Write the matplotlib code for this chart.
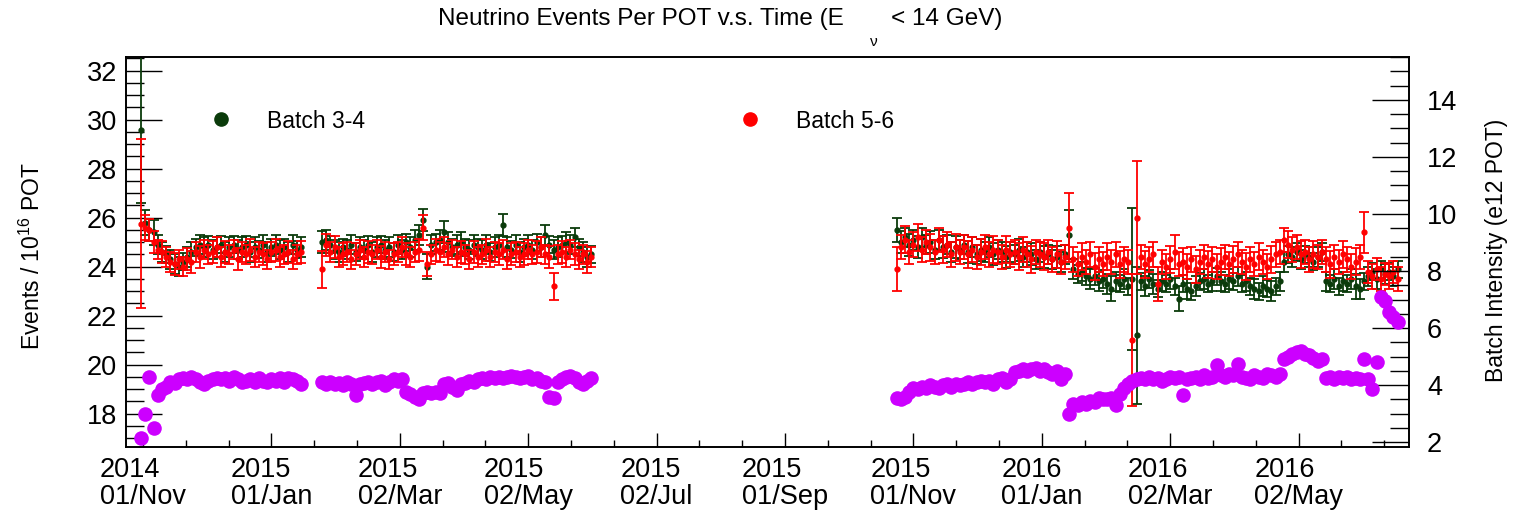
import matplotlib.pyplot as plt
import numpy as np
from matplotlib.lines import Line2D
from matplotlib.ticker import MultipleLocator

plt.rcParams['font.family'] = ['Liberation Sans', 'DejaVu Sans']
plt.rcParams['mathtext.fontset'] = 'custom'
plt.rcParams['mathtext.rm'] = 'Liberation Sans'
plt.rcParams['mathtext.it'] = 'Liberation Sans:italic'
plt.rcParams['mathtext.bf'] = 'Liberation Sans:bold'

# ---- data -------------------------------------------------------------
# time in days since 2014-11-01, one point every second day, three run periods
period_start = [-1, 85, 358]
period_len = [39, 65, 120]
day_step = 2

tick_days = [0, 61, 122, 183, 244, 305, 366, 427, 488, 549]
tick_labels = ['2014\n01/Nov', '2015\n01/Jan', '2015\n02/Mar', '2015\n02/May', '2015\n02/Jul',
               '2015\n01/Sep', '2015\n01/Nov', '2016\n01/Jan', '2016\n02/Mar', '2016\n02/May']

# events / 1e16 POT, batch 3-4
ev34_a = [29.6, 25.8, 25.5, 25.4, 24.9, 24.6, 24.5, 24.3, 24.1, 24.0, 24.2, 24.4, 24.6, 24.8,
          24.9, 24.8, 24.9, 24.7, 24.8, 24.9, 24.6, 24.8, 24.9, 24.7, 24.8, 24.9, 24.6, 24.8,
          24.7, 24.9, 24.6, 24.8, 24.9, 24.7, 24.8, 24.6, 24.9, 24.7, 24.8]
ev34_b = [25.0, 25.1, 24.9, 24.7, 24.6, 24.8, 24.7, 24.9, 24.6, 24.8, 24.7, 24.9, 24.6, 24.8,
          24.9, 24.7, 24.8, 24.6, 24.9, 24.7, 25.0, 24.8, 25.1, 25.3, 25.9, 24.0, 24.9, 25.0,
          25.1, 25.4, 25.0, 24.8, 24.9, 25.0, 24.8, 24.7, 24.9, 24.8, 24.7, 24.9, 24.6, 24.8,
          24.9, 25.7, 24.8, 24.7, 24.9, 24.6, 24.8, 24.9, 24.7, 25.0, 24.8, 25.3, 24.9, 24.7,
          24.8, 24.9, 25.0, 24.9, 25.2, 24.8, 24.6, 24.4, 24.5]
ev34_c = [25.5, 25.0, 25.2, 24.9, 25.1, 24.8, 25.2, 24.9, 25.0, 24.7, 25.1, 24.8, 24.9, 24.6,
          24.8, 24.7, 24.9, 24.6, 24.8, 24.5, 24.7, 24.6, 24.8, 24.5, 24.7, 24.6, 24.4, 24.6,
          24.5, 24.7, 24.4, 24.6, 24.5, 24.3, 24.6, 24.4, 24.5, 24.3, 24.4, 24.2, 24.5, 25.3,
          23.9, 23.7, 23.8, 23.6, 23.5, 23.6, 23.4, 23.5, 23.3, 23.1, 23.4, 23.3, 23.5, 23.2,
          23.5, 21.2, 23.4, 23.2, 23.5, 23.3, 23.1, 23.4, 23.3, 23.5, 23.2, 22.7, 23.3, 23.1,
          23.0, 23.2, 23.4, 23.5, 23.3, 23.4, 23.6, 23.4, 23.3, 23.5, 23.4, 23.6, 23.3, 23.4,
          23.2, 23.1, 23.0, 23.2, 23.1, 23.0, 23.2, 23.4, 24.2, 24.5, 24.4, 24.6, 24.3, 24.5,
          24.4, 24.2, 24.4, 24.6, 23.4, 23.3, 23.5, 23.2, 23.4, 23.3, 23.5, 23.2, 23.1, 23.4,
          23.6, 23.8, 23.5, 23.9, 23.7, 23.8, 23.6, 23.9]
err34_a = [3.0, 0.5, 0.45, 0.5, 0.4, 0.4, 0.35, 0.4, 0.4, 0.4, 0.35, 0.4, 0.4, 0.35, 0.4, 0.4,
           0.35, 0.4, 0.4, 0.35, 0.4, 0.4, 0.35, 0.4, 0.4, 0.35, 0.4, 0.4, 0.35, 0.4, 0.4, 0.35,
           0.4, 0.4, 0.35, 0.4, 0.4, 0.35, 0.4]
err34_b = [0.45, 0.4, 0.35, 0.4, 0.4, 0.35, 0.4, 0.4, 0.35, 0.4, 0.4, 0.35, 0.4, 0.4, 0.35, 0.4,
           0.4, 0.35, 0.4, 0.4, 0.35, 0.4, 0.4, 0.4, 0.45, 0.5, 0.4, 0.35, 0.4, 0.45, 0.4, 0.35,
           0.4, 0.4, 0.35, 0.4, 0.4, 0.35, 0.4, 0.4, 0.35, 0.4, 0.4, 0.45, 0.4, 0.35, 0.4, 0.4,
           0.35, 0.4, 0.4, 0.35, 0.4, 0.4, 0.35, 0.4, 0.4, 0.35, 0.4, 0.4, 0.4, 0.35, 0.4, 0.4,
           0.35]
err34_c = [0.5, 0.45, 0.4, 0.45, 0.4, 0.45, 0.4, 0.4, 0.45, 0.4, 0.4, 0.45, 0.4, 0.4, 0.45,
           0.4, 0.4, 0.45, 0.4, 0.4, 0.45, 0.4, 0.4, 0.45, 0.4, 0.4, 0.45, 0.4, 0.4, 0.45, 0.4,
           0.4, 0.45, 0.4, 0.4, 0.45, 0.4, 0.4, 0.45, 0.4, 0.4, 1.0, 0.4, 0.35, 0.4, 0.35, 0.4,
           0.35, 0.4, 0.35, 0.4, 0.5, 0.4, 0.35, 0.4, 0.35, 2.9, 2.8, 0.35, 0.4, 0.35, 0.4, 0.35,
           0.4, 0.35, 0.4, 0.35, 0.5, 0.35, 0.4, 0.35, 0.4, 0.35, 0.4, 0.35, 0.4, 0.35, 0.4, 0.35,
           0.4, 0.35, 0.4, 0.35, 0.4, 0.35, 0.4, 0.35, 0.4, 0.35, 0.4, 0.35, 0.4, 0.4, 0.35, 0.4,
           0.35, 0.4, 0.35, 0.4, 0.35, 0.4, 0.35, 0.4, 0.35, 0.4, 0.35, 0.4, 0.35, 0.4, 0.5, 0.4,
           0.35, 0.4, 0.35, 0.4, 0.35, 0.4, 0.35, 0.4, 0.35]

# events / 1e16 POT, batch 5-6
ev56_a = [25.75, 25.6, 25.5, 25.0, 24.7, 24.6, 24.4, 24.2, 24.1, 24.3, 24.0, 24.3, 24.2, 24.6,
          24.4, 24.7, 24.5, 24.6, 24.8, 24.4, 24.6, 24.5, 24.7, 24.3, 24.6, 24.5, 24.7, 24.4,
          24.6, 24.5, 24.3, 24.6, 24.7, 24.4, 24.5, 24.6, 24.3, 24.5, 24.6]
ev56_b = [23.9, 24.9, 24.6, 24.8, 24.4, 24.5, 24.6, 24.3, 24.5, 24.7, 24.4, 24.6, 24.5, 24.7,
          24.4, 24.6, 24.3, 24.5, 24.6, 24.8, 24.5, 24.4, 24.6, 24.7, 25.6, 24.1, 24.5, 24.7,
          24.6, 24.8, 24.5, 24.7, 24.4, 24.6, 24.5, 24.3, 24.6, 24.4, 24.5, 24.7, 24.4, 24.6,
          24.5, 24.7, 24.3, 24.5, 24.6, 24.4, 24.5, 24.7, 24.5, 24.6, 24.8, 24.5, 24.4, 23.2,
          24.5, 24.6, 24.4, 24.7, 24.5, 24.3, 24.5, 24.2, 24.4]
ev56_c = [23.9, 24.8, 25.1, 24.6, 24.9, 25.2, 24.7, 25.0, 24.8, 24.6, 25.1, 24.7, 24.9, 24.5,
          24.8, 24.6, 24.8, 24.5, 24.7, 24.4, 24.6, 24.8, 24.5, 24.7, 24.6, 24.4, 24.7, 24.5,
          24.6, 24.4, 24.7, 24.5, 24.3, 24.6, 24.5, 24.4, 24.6, 24.3, 24.5, 24.2, 24.4, 25.6,
          24.3, 24.1, 24.4, 24.2, 24.5, 24.0, 24.3, 24.1, 24.4, 24.2, 24.5, 24.1, 24.3, 24.2,
          21.0, 26.0, 24.4, 24.1, 24.3, 24.5, 23.3, 24.2, 24.0, 24.3, 24.6, 24.1, 24.2, 24.0,
          24.3, 23.9, 24.2, 24.4, 24.1, 24.3, 24.0, 24.2, 24.4, 24.1, 24.3, 24.5, 24.2, 24.0,
          24.3, 24.1, 24.4, 24.2, 24.0, 24.3, 24.5, 24.6, 25.1, 24.9, 24.7, 24.8, 24.5, 24.6,
          24.3, 24.5, 24.4, 24.6, 24.3, 24.1, 24.4, 24.2, 24.5, 24.3, 24.0, 24.2, 24.4, 25.4,
          23.8, 23.6, 23.9, 23.5, 23.7, 23.6, 23.8, 23.5]
err56_a = [3.45, 0.5, 0.45, 0.45, 0.4, 0.45, 0.4, 0.4, 0.45, 0.4, 0.4, 0.45, 0.45, 0.4, 0.45,
           0.4, 0.4, 0.45, 0.4, 0.4, 0.45, 0.4, 0.4, 0.45, 0.4, 0.4, 0.45, 0.4, 0.4, 0.45, 0.4,
           0.4, 0.45, 0.4, 0.4, 0.45, 0.4, 0.4, 0.45]
err56_b = [0.75, 0.45, 0.4, 0.45, 0.4, 0.45, 0.4, 0.4, 0.45, 0.4, 0.4, 0.45, 0.4, 0.4, 0.45, 0.4,
           0.4, 0.45, 0.4, 0.4, 0.45, 0.4, 0.4, 0.45, 0.5, 0.5, 0.4, 0.45, 0.4, 0.4, 0.45, 0.4,
           0.4, 0.45, 0.4, 0.4, 0.45, 0.4, 0.4, 0.45, 0.4, 0.4, 0.45, 0.4, 0.4, 0.45, 0.4, 0.4,
           0.45, 0.4, 0.4, 0.45, 0.4, 0.4, 0.45, 0.55, 0.4, 0.45, 0.4, 0.4, 0.45, 0.4, 0.4, 0.45,
           0.4]
err56_c = [0.9, 0.5, 0.55, 0.5, 0.5, 0.55, 0.5, 0.5, 0.55, 0.5, 0.5, 0.55, 0.5, 0.5, 0.55, 0.5,
           0.5, 0.55, 0.5, 0.5, 0.55, 0.5, 0.5, 0.55, 0.5, 0.5, 0.55, 0.5, 0.5, 0.55, 0.5, 0.5,
           0.55, 0.5, 0.5, 0.55, 0.5, 0.5, 0.55, 0.5, 0.5, 1.4, 0.5, 0.5, 0.55, 0.5, 0.5, 0.55,
           0.5, 0.5, 0.55, 0.5, 0.5, 0.55, 0.5, 0.5, 2.7, 2.3, 0.5, 0.55, 0.5, 0.5, 0.7, 0.5,
           0.5, 0.55, 0.7, 0.5, 0.55, 0.5, 0.5, 0.55, 0.5, 0.5, 0.55, 0.5, 0.5, 0.55, 0.5, 0.5,
           0.55, 0.5, 0.5, 0.55, 0.5, 0.5, 0.55, 0.5, 0.5, 0.55, 0.5, 0.5, 0.5, 0.55, 0.5, 0.5,
           0.55, 0.5, 0.5, 0.55, 0.5, 0.5, 0.5, 0.55, 0.5, 0.5, 0.55, 0.5, 0.5, 0.55, 0.5, 0.85,
           0.45, 0.5, 0.45, 0.5, 0.45, 0.5, 0.45, 0.5]

# batch intensity (e12 POT), right axis
inten_a = [2.14, 3.0, 4.29, 2.48, 3.64, 3.86, 3.95, 4.12, 4.07, 4.2, 4.25, 4.2, 4.29, 4.2,
           4.12, 4.03, 4.16, 4.2, 4.25, 4.2, 4.25, 4.16, 4.29, 4.2, 4.12, 4.16, 4.2, 4.12,
           4.25, 4.16, 4.12, 4.2, 4.16, 4.25, 4.12, 4.25, 4.2, 4.16, 4.03]
inten_b = [4.12, 4.03, 4.12, 4.03, 4.07, 3.99, 4.12, 4.03, 3.64, 4.03, 4.07, 4.12, 4.03, 4.12,
           4.16, 3.99, 4.12, 4.2, 4.16, 4.2, 3.77, 3.69, 3.6, 3.52, 3.73, 3.77, 3.73, 3.77,
           3.73, 4.03, 4.07, 3.95, 3.82, 4.03, 4.07, 4.16, 4.12, 4.2, 4.25, 4.2, 4.29, 4.25,
           4.29, 4.25, 4.29, 4.33, 4.29, 4.25, 4.29, 4.33, 4.2, 4.25, 4.16, 4.12, 3.6, 3.56,
           4.12, 4.2, 4.29, 4.33, 4.25, 4.12, 4.03, 4.16, 4.25]
inten_c = [3.55, 3.5, 3.6, 3.75, 3.9, 3.85, 3.95, 3.9, 4.0, 3.95, 3.9, 4.0, 4.05, 3.95, 4.05,
           4.0, 4.05, 4.1, 4.05, 4.1, 4.15, 4.1, 4.15, 4.05, 4.2, 4.25, 4.1, 4.2, 4.45, 4.5,
           4.55, 4.5, 4.55, 4.6, 4.5, 4.55, 4.45, 4.4, 4.5, 4.2, 4.4, 3.0, 3.35, 3.3, 3.4, 3.35,
           3.45, 3.4, 3.55, 3.5, 3.5, 3.55, 3.3, 3.7, 3.9, 4.05, 4.15, 4.2, 4.25, 4.2, 4.3, 4.2,
           4.25, 4.15, 4.2, 4.3, 4.25, 4.3, 3.65, 4.2, 4.25, 4.3, 4.2, 4.35, 4.25, 4.3, 4.7,
           4.35, 4.3, 4.4, 4.35, 4.75, 4.3, 4.25, 4.2, 4.35, 4.3, 4.25, 4.4, 4.35, 4.3, 4.4, 4.9,
           5.0, 5.1, 5.15, 5.2, 5.1, 5.05, 4.95, 4.85, 4.9, 4.25, 4.3, 4.2, 4.3, 4.25, 4.3, 4.2,
           4.25, 4.2, 4.9, 4.2, 3.85, 4.8, 7.1, 6.95, 6.55, 6.4, 6.2]

green = '#0b3b0b'
red = '#ff0000'
violet = '#cc00ff'

days = np.concatenate([np.arange(s, s + day_step * n, day_step)
                       for s, n in zip(period_start, period_len)])
ev34 = ev34_a + ev34_b + ev34_c
err34 = err34_a + err34_b + err34_c
ev56 = ev56_a + ev56_b + ev56_c
err56 = err56_a + err56_b + err56_c
inten = inten_a + inten_b + inten_c

# ---- figure -----------------------------------------------------------
fig = plt.figure(figsize=(15.18, 5.15), dpi=100)
ax = fig.add_axes([126 / 1518, 1 - 447 / 515, 1283 / 1518, 390 / 515])

ax.errorbar(days, ev34, yerr=err34, fmt='o', ms=3.5, color=green, ecolor=green,
            elinewidth=1.3, capsize=3.6, capthick=1.3, zorder=2)
ax.errorbar(days, ev56, yerr=err56, fmt='o', ms=3.5, color=red, ecolor=red,
            elinewidth=1.3, capsize=3.6, capthick=1.3, zorder=3)

ax.set_xlim(-8.1, 601.4)
ax.set_ylim(16.64, 32.56)
ax.set_xticks(tick_days, tick_labels, fontsize=19.5, multialignment='left', linespacing=1.05)
ax.xaxis.set_minor_locator(MultipleLocator(61 / 3))
ax.yaxis.set_major_locator(MultipleLocator(2))
ax.yaxis.set_minor_locator(MultipleLocator(0.5))
ax.tick_params(axis='y', which='major', direction='in', length=26, width=1.0, labelsize=19.5, pad=6.5)
ax.tick_params(axis='y', which='minor', direction='in', length=13, width=1.0)
ax.tick_params(axis='x', which='major', direction='in', length=10, width=1.0, pad=7)
ax.tick_params(axis='x', which='minor', direction='in', length=5, width=1.0)

ax2 = ax.twinx()
ax2.plot(days, inten, 'o', ms=10.5, color=violet, mec='none', zorder=4)
ax2.set_ylim(1.83, 15.5)
ax2.yaxis.set_major_locator(MultipleLocator(2))
ax2.yaxis.set_minor_locator(MultipleLocator(0.5))
ax2.tick_params(axis='y', which='major', direction='in', length=26.5, width=1.0, labelsize=19.5, pad=13)
ax2.tick_params(axis='y', which='minor', direction='in', length=13.5, width=1.0)

for a in (ax, ax2):
    for sp in a.spines.values():
        sp.set_linewidth(1.2)
        sp.set_color('black')

# title, with the low-set nu subscript as in the original
fig.text(720 / 1518, 1 - 19 / 515, 'Neutrino Events Per POT v.s. Time (E       < 14 GeV)',
         ha='center', va='center', fontsize=17.5)
fig.text(874 / 1518, 1 - 42 / 515, 'ν', ha='center', va='center', fontsize=11)
fig.text(32 / 1518, 1 - 256 / 515, r'Events / 10$^{16}$ POT', rotation=90,
         ha='center', va='center', fontsize=16.5)
fig.text(1496 / 1518, 1 - 250 / 515, 'Batch Intensity (e12 POT)', rotation=90,
         ha='center', va='center', fontsize=16.5)

handles = [Line2D([], [], ls='none', marker='o', ms=9.5, color=green),
           Line2D([], [], ls='none', marker='o', ms=9.5, color=red)]
fig.legend(handles, ['Batch 3-4', 'Batch 5-6'], loc='center left',
           bbox_to_anchor=(210 / 1518, 1 - 121 / 515), ncol=2, frameon=False,
           fontsize=16.5, handlelength=1.0, handletextpad=1.5, columnspacing=16.3,
           borderpad=0, borderaxespad=0, numpoints=1)

fig.savefig('out.png', dpi=100)
